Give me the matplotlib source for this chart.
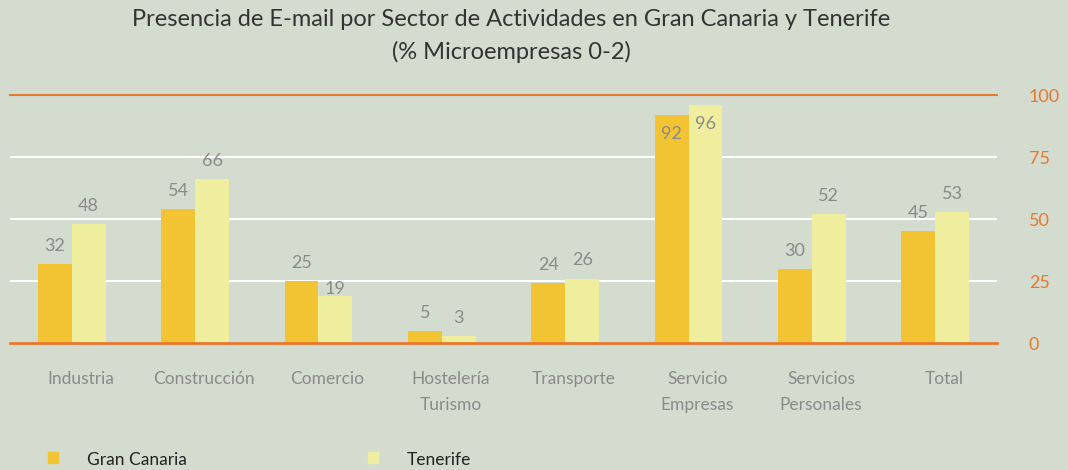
import matplotlib
matplotlib.use("Agg")
import matplotlib.pyplot as plt
import matplotlib.transforms as mtransforms
import numpy as np

categories = ["Industria", "Construcción", "Comercio", "Hostelería\nTurismo",
              "Transporte", "Servicio\nEmpresas", "Servicios\nPersonales", "Total"]
gran_canaria = [32, 54, 25, 5, 24, 92, 30, 45]
tenerife = [48, 66, 19, 3, 26, 96, 52, 53]
yticks = [0, 25, 50, 75, 100]
series_names = ["Gran Canaria", "Tenerife"]

BG = "#d4dcd0"
C_GC = "#f2c433"
C_TF = "#eeee9e"
ORANGE = "#e8782e"
GRAY = "#8a8a8a"
FONT = "Lato"

fig = plt.figure(figsize=(10.68, 4.70), dpi=100, facecolor=BG)
ax = fig.add_axes([10/1068, 1-343/470, (997-10)/1068, (343-95)/470])
ax.set_facecolor(BG)

x = np.arange(len(categories))
w = 0.275
b1 = ax.bar(x - w/2, gran_canaria, w, color=C_GC, zorder=3)
b2 = ax.bar(x + w/2, tenerife, w, color=C_TF, zorder=3)

ax.set_xlim(-0.5, len(categories) - 0.5)
ax.set_ylim(0, 100)

for v in yticks:
    if v in (0, 100):
        ax.axhline(v, color=ORANGE, lw=2.0 if v == 0 else 1.5,
                   zorder=4 if v == 0 else 2, clip_on=False)
    else:
        ax.axhline(v, color="white", lw=1.5, zorder=2)

for s in ax.spines.values():
    s.set_visible(False)

ax.yaxis.tick_right()
ax.set_yticks(yticks)
ax.set_yticklabels([str(v) for v in yticks], color=ORANGE, fontsize=13, family=FONT)
ax.tick_params(axis="y", length=0, pad=23)
for t in ax.get_yticklabels():
    t.set_horizontalalignment("left")

ax.set_xticks(x)
ax.set_xticklabels(categories, color=GRAY, fontsize=12.5, family=FONT, linespacing=1.75)
ax.tick_params(axis="x", length=0, pad=20)
off = mtransforms.ScaledTranslation(9/100, 0, fig.dpi_scale_trans)
for t in ax.get_xticklabels():
    t.set_transform(t.get_transform() + off)

def label(bars, vals):
    for r, v in zip(bars, vals):
        cx = r.get_x() + r.get_width()/2
        if v >= 90:
            dy = -14
        elif v == 19:
            dy = 5
        else:
            dy = 13
        ax.annotate(str(v), (cx, v), xytext=(0, dy), textcoords="offset points",
                    ha="center", va="center", color=GRAY, fontsize=13, family=FONT, zorder=5)

label(b1, gran_canaria)
label(b2, tenerife)

tx = 511/1068
fig.text(tx, 1-20/470, "Presencia de E-mail por Sector de Actividades en Gran Canaria y Tenerife",
         ha="center", va="center", fontsize=17, color="#333333", family=FONT)
fig.text(tx, 1-52/470, "(% Microempresas 0-2)",
         ha="center", va="center", fontsize=17, color="#333333", family=FONT)

# legend
for (xs, name, c) in [(48, series_names[0], C_GC), (368, series_names[1], C_TF)]:
    fig.patches.append(plt.Rectangle((xs/1068, 1-463/470), 10/1068, 11/470,
                                     transform=fig.transFigure, color=c, figure=fig))
    fig.text((xs+39)/1068, 1-460/470, name, ha="left", va="center",
             fontsize=12.5, color="#222222", family=FONT)

fig.savefig("out.png", dpi=100, facecolor=BG)
